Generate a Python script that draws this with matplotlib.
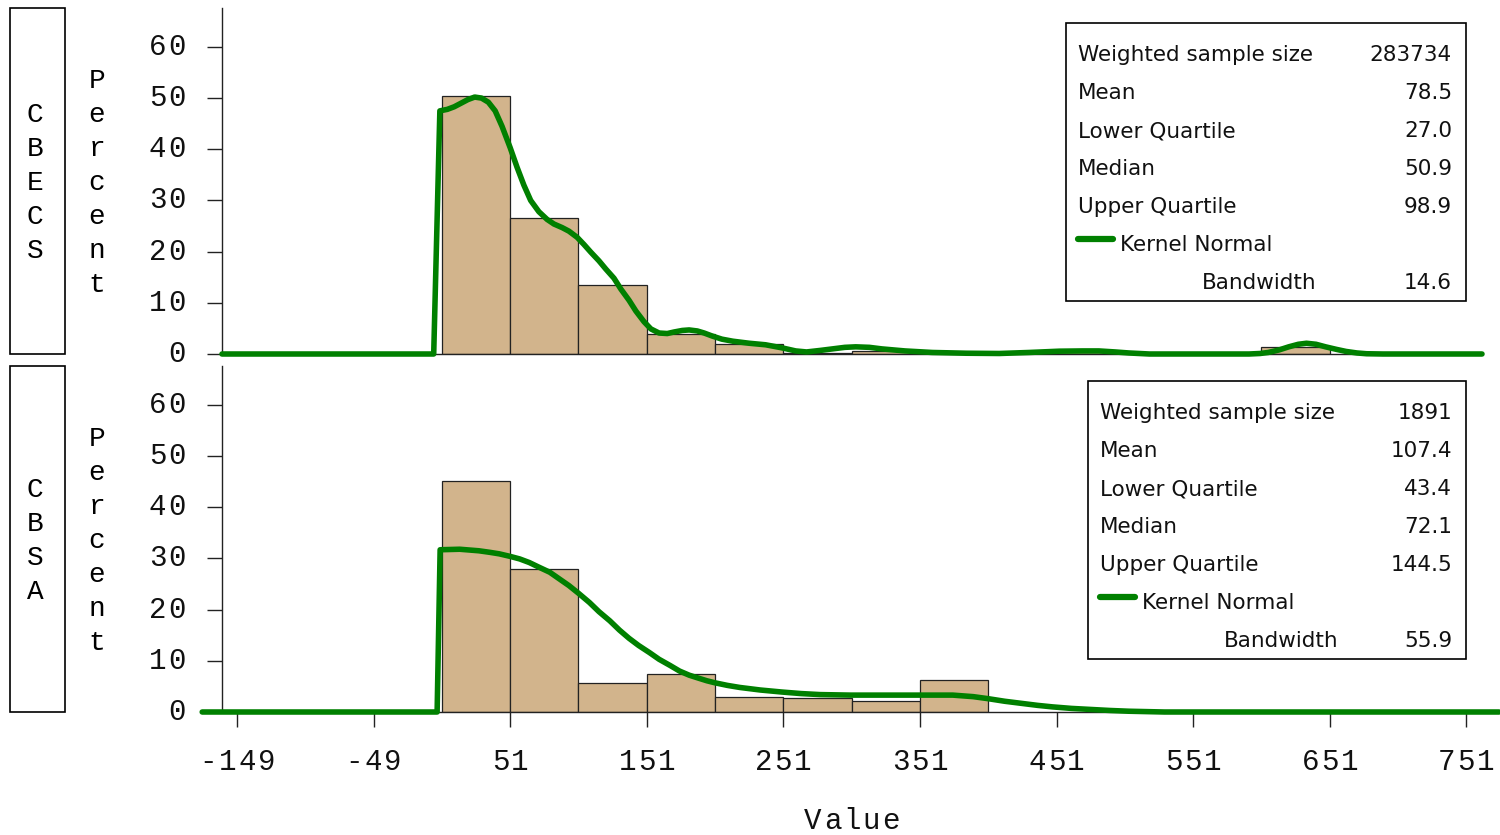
import numpy as np
import matplotlib.pyplot as plt
from matplotlib.patches import Rectangle
from matplotlib.lines import Line2D
from matplotlib.transforms import offset_copy

W, H = 1500, 835

# histogram bins (left edges, width 50) and percents
cbecs_left = [1, 51, 101, 151, 201, 251, 301, 351, 401, 451, 501, 551, 601]
cbecs_pct = [50.5, 26.6, 13.5, 4.0, 2.0, 0.2, 0.5, 0.2, 0.1, 0.3, 0.1, 0.0, 1.3]
cbsa_left = [1, 51, 101, 151, 201, 251, 301, 351]
cbsa_pct = [45.1, 27.9, 5.6, 7.5, 2.9, 2.8, 2.1, 6.2]

# kernel density curves
cbecs_kx = [-160, -5, -0.5, 5, 10, 15, 20, 25, 30, 35, 40, 45, 51, 56, 61, 66, 72, 78, 83,
            89, 94, 100, 105, 110, 116, 121, 127, 132, 138, 143, 149, 154, 160, 166,
            171, 177, 182, 188, 193, 199, 206, 214, 226, 238, 250, 260, 268, 278, 287,
            296, 304, 314, 323, 340, 360, 385, 409, 431, 453, 470, 482, 494, 504, 519,
            592, 600, 606, 614, 621, 628, 634, 641, 648, 656, 663, 671, 678, 690, 762.5]
cbecs_ky = [0, 0, 47.5, 47.8, 48.3, 49.0, 49.7, 50.2, 50.0, 49.2, 47.5, 44.5, 40.3, 36.5,
            33.0, 30.0, 27.8, 26.3, 25.4, 24.7, 24.0, 22.8, 21.4, 19.9, 18.2, 16.6, 14.8,
            12.7, 10.5, 8.4, 6.3, 4.9, 4.1, 4.0, 4.3, 4.6, 4.7, 4.5, 4.1, 3.5, 2.9, 2.5,
            2.1, 1.8, 1.2, 0.6, 0.4, 0.7, 1.0, 1.3, 1.4, 1.3, 1.0, 0.6, 0.3, 0.15, 0.1, 0.3,
            0.55, 0.6, 0.6, 0.4, 0.2, 0, 0, 0.1, 0.3, 0.8, 1.4, 1.9, 2.1, 1.9, 1.4, 0.9,
            0.5, 0.2, 0.05, 0, 0]
cbsa_kx = [-174.5, -2.5, -0.3, 14, 28, 36, 43, 51, 58, 65, 72, 80, 87, 94, 101, 109, 116,
           124, 131, 138, 145, 153, 160, 168, 175, 182, 189, 195, 201, 210, 219, 234,
           250, 264, 278, 300, 336, 375, 390, 401, 413, 425, 437, 448, 462, 476, 490,
           504, 530, 775]
cbsa_ky = [0, 0, 31.7, 31.8, 31.5, 31.2, 30.9, 30.4, 29.9, 29.2, 28.3, 27.3, 26.0, 24.7,
           23.2, 21.4, 19.6, 17.8, 16.0, 14.4, 13.0, 11.6, 10.3, 9.1, 8.0, 7.2, 6.6, 6.1,
           5.7, 5.2, 4.8, 4.3, 3.9, 3.6, 3.4, 3.3, 3.3, 3.3, 3.0, 2.6, 2.1, 1.7, 1.3, 1.0,
           0.7, 0.5, 0.3, 0.15, 0, 0]

xticks = [-149, -49, 51, 151, 251, 351, 451, 551, 651, 751]
yticks = [0, 10, 20, 30, 40, 50, 60]

stat_names = ['Weighted sample size', 'Mean', 'Lower Quartile', 'Median', 'Upper Quartile']
cbecs_stats = ['283734', '78.5', '27.0', '50.9', '98.9']
cbsa_stats = ['1891', '107.4', '43.4', '72.1', '144.5']
bandwidths = ['14.6', '55.9']

mono = 'Liberation Mono'
sans = 'DejaVu Sans'
bar_col = '#D2B48C'
kde_col = '#008000'
adv = 19.5  # letter pitch of the spaced mono labels, px


def fx(px):
    return px / W


def fy(py):
    return 1 - py / H


fig = plt.figure(figsize=(15, 8.35), dpi=100)


def spaced(ax, s, x, y, trans, dx, dy, align='center', size=21):
    # draw a string one char at a time with a wide letter pitch
    n = len(s)
    if align == 'center':
        start = dx - (n - 1) / 2 * adv
    else:  # dx = centre of the last char
        start = dx - (n - 1) * adv
    for k, ch in enumerate(s):
        t = offset_copy(trans, fig=fig, x=start + k * adv, y=dy, units='dots')
        ax.text(x, y, ch, transform=t, fontfamily=mono, fontsize=size,
                ha='center', va='center', clip_on=False, color='#111111')


panels = [
    (8, 'CBECS', cbecs_left, cbecs_pct, cbecs_kx, cbecs_ky, cbecs_stats, bandwidths[0], 1066, 23),
    (366, 'CBSA', cbsa_left, cbsa_pct, cbsa_kx, cbsa_ky, cbsa_stats, bandwidths[1], 1088, 381),
]

for i, (top, name, left, pct, kx, ky, stats, bw, bx, by) in enumerate(panels):
    ax = fig.add_axes([fx(222), fy(top + 346), fx(1482) - fx(222), 346 / H])
    ax.bar(left, pct, width=50, align='edge', color=bar_col, edgecolor='#222222', linewidth=0.9)
    ax.plot(kx, ky, color=kde_col, lw=4, solid_capstyle='round', solid_joinstyle='round',
            clip_on=False, zorder=4)
    ax.set_xlim(-160, 762.5)
    ax.set_ylim(0, 67.6)
    for s in ['top', 'right']:
        ax.spines[s].set_visible(False)
    for s in ['left', 'bottom']:
        ax.spines[s].set_linewidth(1.0)
        ax.spines[s].set_color('#222222')
    ax.set_yticks(yticks)
    ax.tick_params(axis='y', length=11, width=1, colors='#222222', labelleft=False)
    for v in yticks:
        spaced(ax, str(v), 0, v, ax.get_yaxis_transform(), -45, 0, align='right')
    ax.set_xticks(xticks)
    if i == 0:
        ax.tick_params(axis='x', bottom=False, labelbottom=False)
    else:
        ax.tick_params(axis='x', length=11, width=1, colors='#222222', labelbottom=False)
        for v in xticks:
            spaced(ax, str(v), v, 0, ax.get_xaxis_transform(), 0, -50)
        spaced(ax, 'Value', 0.5, 0, ax.transAxes, 0, -109)

    # strip label box with stacked letters
    fig.add_artist(Rectangle((fx(9.5), fy(top + 346)), fx(64.5) - fx(9.5), 346 / H,
                             transform=fig.transFigure, fill=False, lw=1.2, ec='black'))
    first = top + 114 + 17 * (5 - len(name))
    for k, ch in enumerate(name):
        fig.text(fx(35), fy(first + 34 * k), ch, fontfamily=mono, fontsize=20,
                 ha='center', va='baseline')
    for k, ch in enumerate('Percent'):
        fig.text(fx(97), fy(top + 80 + 34 * k), ch, fontfamily=mono, fontsize=20,
                 ha='center', va='baseline')

    # statistics inset
    fig.add_artist(Rectangle((fx(bx), fy(by + 278)), fx(1466) - fx(bx), 278 / H,
                             transform=fig.transFigure, fill=False, lw=1.2, ec='black'))
    tx = bx + 12
    for k in range(5):
        yb = by + 38 + 38 * k
        fig.text(fx(tx), fy(yb), stat_names[k], fontfamily=sans, fontsize=15.5,
                 ha='left', va='baseline', color='#111111')
        fig.text(fx(1452), fy(yb), stats[k], fontfamily=sans, fontsize=15.5,
                 ha='right', va='baseline', color='#111111')
    yl = by + 216
    fig.add_artist(Line2D([fx(bx + 12), fx(bx + 47)], [fy(yl), fy(yl)], color=kde_col,
                          lw=4.5, solid_capstyle='round', transform=fig.transFigure))
    fig.text(fx(bx + 54), fy(by + 228), 'Kernel Normal', fontfamily=sans, fontsize=15.5,
             ha='left', va='baseline', color='#111111')
    fig.text(fx(bx + 136), fy(by + 266), 'Bandwidth', fontfamily=sans, fontsize=15.5,
             ha='left', va='baseline', color='#111111')
    fig.text(fx(1452), fy(by + 266), bw, fontfamily=sans, fontsize=15.5,
             ha='right', va='baseline', color='#111111')

fig.savefig('out.png', dpi=100)
